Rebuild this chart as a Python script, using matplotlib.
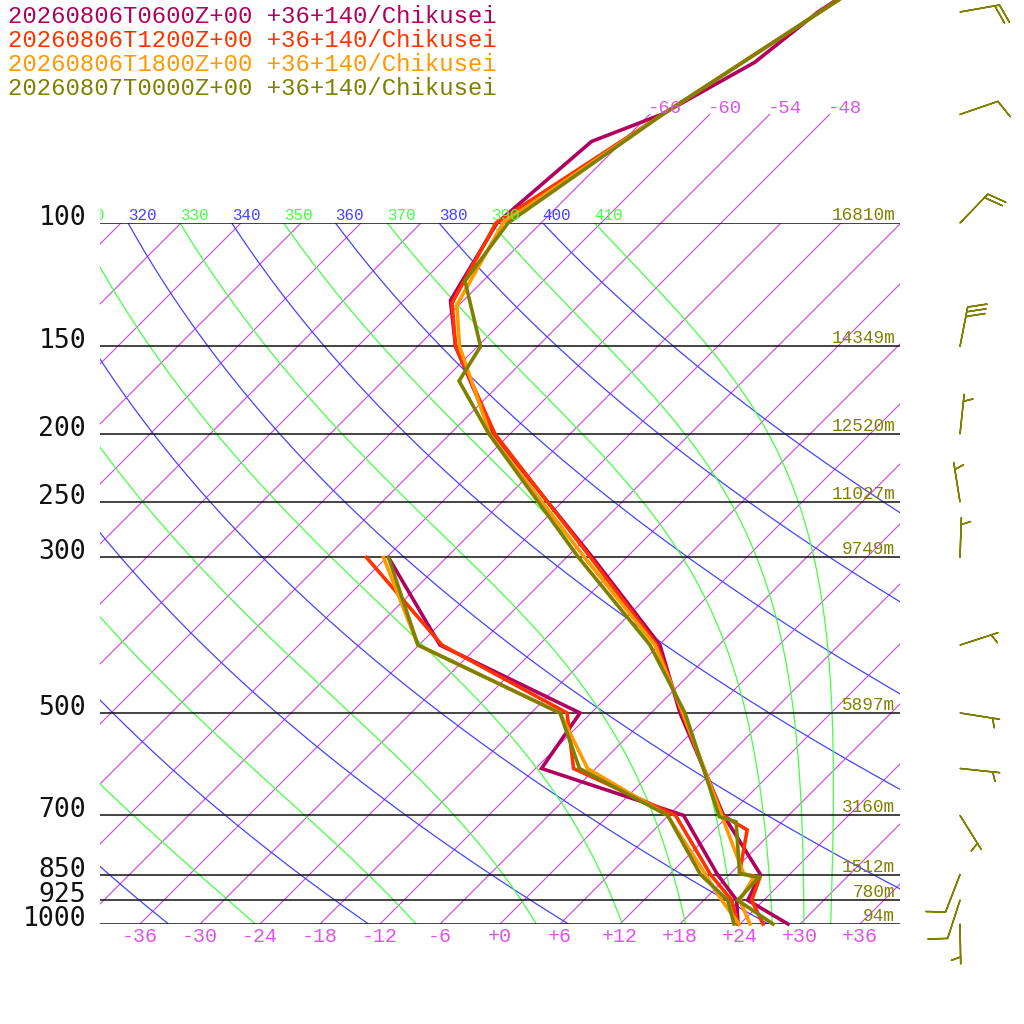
import numpy as np
import matplotlib
matplotlib.use('Agg')
import matplotlib.pyplot as plt
from matplotlib.transforms import offset_copy, Bbox, TransformedBbox

plt.rcParams['font.family'] = ['Liberation Mono', 'DejaVu Sans Mono']

# runs / legend
runs = ['20260806T0600Z+00', '20260806T1200Z+00',
        '20260806T1800Z+00', '20260807T0000Z+00']
site = '+36+140/Chikusei'
run_colors = ['#b0005e', '#ff3300', '#ff9900', '#808000']

# temperature profiles (hPa, degC)
p_t_0600 = [1000, 925, 850, 700, 500, 400, 300, 200, 150, 129, 100, 76.5, 70, 59, 50, 30]
t_0600 = [28.8, 22.4, 21.1, 11.5, -3.1, -11.9, -27.4, -49.7, -62.2, -67.3, -70.4, -69.1, -64.8, -60.7, -59.4, -51.0]
p_t_1200 = [1000, 925, 857, 847, 734, 700, 500, 400, 300, 200, 150, 130, 100, 70, 50, 30]
t_1200 = [26.3, 22.8, 21.3, 18.9, 15.3, 11.4, -2.9, -12.2, -27.6, -49.5, -62.2, -66.9, -70.5, -64.7, -59.2, -51.0]
p_t_1800 = [1000, 925, 858, 847, 700, 500, 400, 300, 200, 150, 131, 100, 70, 50, 30]
t_1800 = [25.0, 21.6, 20.7, 19.3, 11.3, -2.8, -12.4, -28.2, -50.0, -61.8, -66.2, -69.8, -64.7, -59.2, -51.0]
p_t_0000 = [1000, 925, 858, 847, 715, 703, 500, 400, 300, 200, 168, 150, 121, 100, 70, 50, 30]
t_0000 = [27.3, 21.4, 21.2, 18.9, 13.4, 11.2, -2.6, -12.9, -28.8, -50.1, -58.4, -59.7, -67.8, -69.3, -64.7, -59.2, -51.0]

# dewpoint profiles
p_td = [1000, 925, 850, 700, 600, 500, 400, 300]
td_0600 = [23.8, 21.3, 16.8, 7.5, -11.4, -13.1, -33.9, -47.8]
td_1200 = [23.8, 20.8, 16.1, 6.7, -8.2, -14.4, -33.7, -50.0]
td_1800 = [23.9, 19.8, 15.6, 5.9, -6.8, -15.1, -36.1, -48.3]
td_0000 = [23.4, 20.4, 15.1, 5.9, -7.6, -15.1, -36.1, -47.8]

# wind of the last run (direction deg, speed)
wind_p = [1000, 925, 850, 700, 600, 500, 400, 300, 250, 200, 150, 100, 70, 50]
wind_dir = [179, 198, 201, 148, 96, 99, 72, 2, 351, 6, 11, 44, 71, 80]
wind_spd = [5, 10, 10, 5, 5, 5, 5, 5, 5, 5, 30, 20, 10, 20]

# mandatory levels with heights
p_levels = [100, 150, 200, 250, 300, 500, 700, 850, 925, 1000]
heights = ['16810m', '14349m', '12520m', '11027m', '9749m',
           '5897m', '3160m', '1512m', '780m', '94m']

isotherms = np.arange(-108, 37, 6)
top_isotherms = [-66, -60, -54, -48]
bottom_temps = np.arange(-36, 37, 6)
theta_dry = np.arange(240, 401, 20)     # blue, potential temperature
theta_moist = np.arange(250, 411, 20)   # green, equivalent potential temperature

SKEW = 70.1 / np.log(10)  # 45 degree skew
KAPPA = 287.04 / 1005.7


def skx(t, p):
    return np.asarray(t) + SKEW * np.log(1000.0 / np.asarray(p))


def moist_dtdp(t, p):
    es = 6.112 * np.exp(17.67 * (t - 273.15) / (t - 29.65))
    rs = 0.622 * es / (p - es)
    return (287.04 * t + 2.501e6 * rs) / (p * (1005.7 + 2.501e6 ** 2 * rs * 0.622 / (287.04 * t * t)))


fig = plt.figure(figsize=(10.24, 10.24), dpi=100)
ax = fig.add_axes([100 / 1024, 100 / 1024, 800 / 1024, 701 / 1024])
ax.set_yscale('log')
ax.set_xlim(-40, 40)
ax.set_ylim(1000, 100)
ax.axis('off')

iso_col = '#cc44dd'
lbl_col = '#dd55e6'

# isotherms
for t in isotherms:
    ax.plot(skx([t, t], [1000, 100]), [1000, 100], color=iso_col, lw=0.8)
for t in top_isotherms:
    ax.plot(skx([t, t], [100, 70]), [100, 70], color=iso_col, lw=0.8, clip_on=False)
    ax.text(skx(t, 70), 70, '%+d' % t, color=lbl_col, fontsize=13.7,
            ha='left', va='baseline',
            transform=offset_copy(ax.transData, fig, x=-2, y=1, units='dots'))

pp = np.geomspace(100, 1000, 300)

# dry adiabats
dry = theta_dry[None, :] * (pp[:, None] / 1000.0) ** KAPPA - 273.15

# pseudo-adiabats
tk = theta_moist * 0.1 ** KAPPA
moist = [tk.copy()]
for p0, p1 in zip(pp[:-1], pp[1:]):
    dp = p1 - p0
    k1 = moist_dtdp(tk, p0)
    k2 = moist_dtdp(tk + 0.5 * dp * k1, p0 + 0.5 * dp)
    k3 = moist_dtdp(tk + 0.5 * dp * k2, p0 + 0.5 * dp)
    k4 = moist_dtdp(tk + dp * k3, p1)
    tk = tk + dp / 6 * (k1 + 2 * k2 + 2 * k3 + k4)
    moist.append(tk.copy())
moist = np.array(moist) - 273.15

clip = TransformedBbox(Bbox.from_extents(100 / 1024, 0, 1, 1), fig.transFigure)
for thetas, curves, col in [(theta_dry, dry, '#4444ff'), (theta_moist, moist, '#44ff44')]:
    for i, th in enumerate(thetas):
        ax.plot(skx(curves[:, i], pp), pp, color=col, lw=0.9)
        x0 = skx(curves[0, i], 100)
        if x0 < -45:
            continue  # label would lie entirely left of the diagram
        txt = ax.text(x0, 100, str(th), color=col, fontsize=11.4,
                      ha='left', va='baseline',
                      transform=offset_copy(ax.transData, fig, x=0, y=3, units='dots'))
        txt.set_clip_box(clip)
        txt.set_clip_on(True)

# pressure lines and labels
ax.hlines(p_levels, -40, 40, colors='#111111', lw=1.1)
for p, h in zip(p_levels, heights):
    ax.text(-41.4, p, str(p), ha='right', va='baseline', fontsize=19,
            family='DejaVu Sans Mono', color='#111111',
            transform=offset_copy(ax.transData, fig, x=0, y=-2, units='dots'))
    ax.text(39.5, p, h, ha='right', va='baseline', fontsize=12.8, color='#808000',
            transform=offset_copy(ax.transData, fig, x=0, y=3, units='dots'))

for t in bottom_temps:
    ax.text(t, 1000, '%+d' % t if t else '+0', ha='center', va='center',
            fontsize=14.4, color=lbl_col,
            transform=offset_copy(ax.transData, fig, x=0, y=-13, units='dots'))

# profiles
t_sets = [(p_t_0600, t_0600), (p_t_1200, t_1200), (p_t_1800, t_1800), (p_t_0000, t_0000)]
td_sets = [td_0600, td_1200, td_1800, td_0000]
for (pt, tt), td, col in zip(t_sets, td_sets, run_colors):
    ax.plot(skx(tt, pt), pt, color=col, lw=2.6, clip_on=False, solid_joinstyle='miter')
    ax.plot(skx(td, p_td), p_td, color=col, lw=2.6, clip_on=False, solid_joinstyle='miter')

# wind barbs
d = np.radians(wind_dir)
spd = np.array(wind_spd, dtype=float)
u = -spd * np.sin(d)
v = -spd * np.cos(d)
ax.barbs(np.full(len(wind_p), 46.0), wind_p, u, v, length=7.6, color='#808000',
         linewidth=1.1, sizes=dict(spacing=0.12, height=0.46, width=0.33),
         clip_on=False)

# legend
for i, (r, col) in enumerate(zip(runs, run_colors)):
    fig.text(8 / 1024, 1 - (23 + 24 * i) / 1024, r + ' ' + site, color=col,
             fontsize=17.2, ha='left', va='baseline')

fig.savefig('out.png', dpi=100)
